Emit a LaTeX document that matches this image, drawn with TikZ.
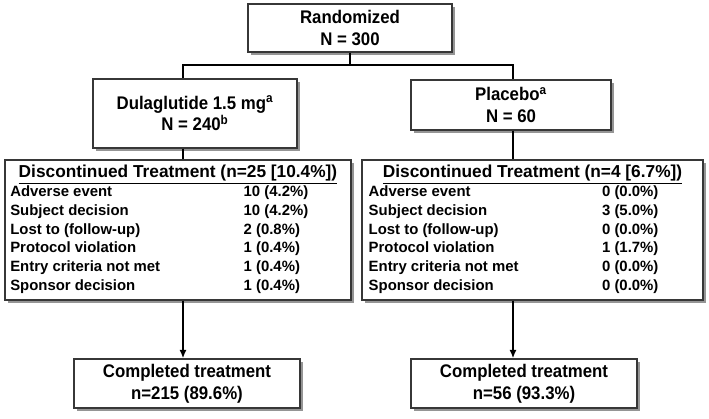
\documentclass[tikz,border=0pt]{standalone}
\usepackage{fontspec}
\setmainfont{Liberation Sans}
\newfontfamily\narrowfont[FakeStretch=0.92]{Liberation Sans}
\usepackage{array}
\usetikzlibrary{positioning, calc, shadows, arrows.meta}
\definecolor{BoxEdge}{RGB}{55,55,55}
\definecolor{ShadowGray}{RGB}{130,130,130}
\tikzset{
	armbox/.style={draw=BoxEdge, line width=0.9pt, fill=white, align=center, inner sep=0pt,
		font=\narrowfont\bfseries\fontsize{13}{15.6}\selectfont,
		drop shadow={shadow xshift=2pt, shadow yshift=-2pt, fill=ShadowGray, opacity=0.85}},
	listbox/.style={armbox, font=\bfseries\fontsize{10.6}{13.3}\selectfont},
	link/.style={line width=1.3pt, draw=black},
}
% discontinuation table: header, then the six reasons
\newcommand{\disclist}[7]{%
	\begin{tabular}{@{}p{166pt}@{}p{67pt}@{}}
		\multicolumn{2}{c}{\fontsize{12.3}{13.3}\selectfont\underline{Discontinued Treatment (#1)}}\\
		Adverse event & #2\\
		Subject decision & #3\\
		Lost to (follow-up) & #4\\
		Protocol violation & #5\\
		Entry criteria not met & #6\\
		Sponsor decision & #7
	\end{tabular}}

\begin{document}
\begin{tikzpicture}
\useasboundingbox (0,0) rectangle (17.725,10.45);

\node[armbox, minimum width=5.1cm, minimum height=1.2cm] (rand) at (8.75,9.75) {Randomized\\N = 300};

\node[armbox, minimum width=5.1cm, minimum height=1.725cm] (dul) at (4.875,7.6125) {Dulaglutide 1.5 mg\textsuperscript{a}\\N = 240\textsuperscript{b}};
\node[armbox, minimum width=5.0cm, minimum height=1.25cm] (plc) at (12.775,7.825) {Placebo\textsuperscript{a}\\N = 60};

\node[listbox, minimum width=8.65cm, minimum height=3.5cm] (discL) at (4.45,4.7)
	{\disclist{n=25 [10.4\%]}{10 (4.2\%)}{10 (4.2\%)}{2 (0.8\%)}{1 (0.4\%)}{1 (0.4\%)}{1 (0.4\%)}};
\node[listbox, minimum width=8.525cm, minimum height=3.5cm] (discR) at (13.3125,4.7)
	{\disclist{n=4 [6.7\%]}{0 (0.0\%)}{3 (5.0\%)}{0 (0.0\%)}{1 (1.7\%)}{0 (0.0\%)}{0 (0.0\%)}};

\node[armbox, minimum width=5.65cm, minimum height=1.225cm] (compL) at (4.675,0.8625) {Completed treatment\\n=215 (89.6\%)};
\node[armbox, minimum width=5.65cm, minimum height=1.225cm] (compR) at (13.1,0.8625) {Completed treatment\\n=56 (93.3\%)};

% columns the connectors run down
\coordinate (split) at (8.75,8.825);
\coordinate (colL) at (4.575,0);
\coordinate (colR) at (12.825,0);

\draw[link] (rand.south) -- (split);
\draw[link] (split) -| (dul.north -| colL);
\draw[link] (split) -| (plc.north -| colR);
\draw[link] (dul.south -| colL) -- (discL.north -| colL);
\draw[link] (plc.south -| colR) -- (discR.north -| colR);
\draw[link, -{Latex[length=6pt,width=5pt]}] (discL.south -| colL) -- (compL.north -| colL);
\draw[link, -{Latex[length=6pt,width=5pt]}] (discR.south -| colR) -- (compR.north -| colR);
\end{tikzpicture}
\end{document}
